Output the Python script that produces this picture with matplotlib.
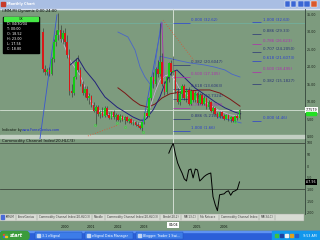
import numpy as np
import matplotlib
matplotlib.use("Agg")
import matplotlib.pyplot as plt
from matplotlib.patches import Rectangle, FancyBboxPatch
import matplotlib.transforms as mtransforms

# ---- data: monthly bars, month index counted from Jan 2000 = 0 ----
months = list(range(-8, 82))
opens = [30.0, 19.5, 18.5, 19.2, 18.0, 22.3, 27.2, 29.0,
         30.5, 28.0, 29.5, 27.0, 23.5, 13.0, 12.5, 17.0, 21.5, 19.0,
         15.0, 12.5, 13.8, 11.0, 11.8, 9.0, 7.5, 8.5, 6.5, 7.2,
         6.0, 8.2, 6.3, 5.5, 7.0, 5.6, 6.2, 4.9, 6.0, 4.8,
         5.6, 4.5, 5.1, 3.9, 4.4, 3.3, 3.0, 2.6, 4.2, 6.8,
         6.0, 11.0, 17.0, 15.0, 19.5, 18.0, 21.5, 15.0, 12.8, 17.0,
         21.0, 18.52, 18.8, 13.0, 10.0, 12.2, 14.5, 11.0, 13.5, 9.5,
         13.0, 10.5, 12.5, 9.8, 12.0, 9.5, 11.2, 8.5, 10.0, 7.5,
         8.2, 6.6, 5.8, 7.0, 6.0, 5.2, 6.3, 5.0, 5.6, 4.6,
         6.0, 5.3]
highs = [31.0, 20.5, 19.8, 20.0, 22.8, 28.0, 30.5, 35.2,
         32.0, 30.5, 31.0, 29.0, 25.0, 15.0, 17.5, 22.5, 23.5, 20.0,
         16.0, 14.5, 14.5, 12.5, 12.0, 10.0, 9.0, 9.0, 7.8, 8.5,
         8.8, 8.8, 7.0, 7.5, 7.6, 6.8, 6.6, 6.5, 6.4, 6.0,
         5.9, 5.5, 5.3, 4.8, 4.6, 4.2, 3.5, 4.5, 7.2, 8.0,
         11.5, 17.5, 18.5, 20.0, 22.0, 32.6, 24.0, 16.0, 17.5, 21.5,
         22.0, 23.0, 19.0, 14.0, 12.8, 15.0, 15.2, 14.0, 14.2, 13.8,
         13.5, 13.0, 13.0, 12.5, 12.4, 11.8, 11.5, 10.5, 10.2, 8.8,
         8.5, 7.2, 7.3, 7.4, 6.5, 6.6, 6.5, 6.0, 5.8, 6.2,
         6.5, 8.0]
lows = [18.5, 17.8, 17.6, 17.5, 17.8, 21.5, 26.0, 27.5,
        27.0, 26.5, 26.0, 22.5, 12.0, 11.5, 12.0, 16.5, 18.5, 14.5,
        12.0, 11.5, 10.5, 9.5, 8.5, 7.0, 3.4, 6.0, 5.5, 5.8,
        5.8, 6.0, 5.0, 5.2, 5.0, 4.6, 4.5, 4.2, 4.5, 3.8,
        4.2, 3.9, 3.6, 3.3, 3.0, 2.8, 2.2, 1.7, 3.8, 5.5,
        5.8, 10.5, 14.0, 14.5, 17.0, 17.5, 14.5, 12.0, 12.3, 15.8,
        17.5, 17.56, 12.5, 9.5, 9.0, 11.0, 10.5, 10.0, 9.0, 9.0,
        10.0, 10.0, 9.2, 9.5, 9.0, 9.0, 8.0, 8.0, 7.0, 6.5,
        6.2, 5.4, 5.5, 5.5, 4.8, 5.0, 4.6, 4.4, 4.3, 4.4,
        4.9, 5.1]
closes = [19.5, 18.5, 19.2, 18.0, 22.3, 27.2, 29.0, 30.5,
          28.0, 29.5, 27.0, 23.5, 13.0, 12.5, 17.0, 21.5, 19.0, 15.0,
          12.5, 13.8, 11.0, 11.8, 9.0, 7.5, 8.5, 6.5, 7.2, 6.0,
          8.2, 6.3, 5.5, 7.0, 5.6, 6.2, 4.9, 6.0, 4.8, 5.6,
          4.5, 5.1, 3.9, 4.4, 3.3, 3.0, 2.6, 4.2, 6.8, 6.0,
          11.0, 17.0, 15.0, 19.5, 18.0, 21.5, 15.0, 12.8, 17.0, 21.0,
          18.5, 18.80, 13.0, 10.0, 12.2, 14.5, 11.0, 13.5, 9.5, 13.0,
          10.5, 12.5, 9.8, 12.0, 9.5, 11.2, 8.5, 10.0, 7.5, 8.2,
          6.6, 5.8, 7.0, 6.0, 5.2, 6.3, 5.0, 5.6, 4.6, 6.0,
          5.3, 7.7579]

# indicator lines
navy_m = [4.3, 7.9, 11.1, 15.6, 17.9, 20.1, 25.6, 32.8, 36.0, 38.2, 41.9,
          45.0, 47.3, 50.5, 52.7, 56.3, 60.8, 65.4, 69.9, 74.4, 78.8, 81.5]
navy_v = [20.5, 22.5, 19.1, 15.7, 13.4, 11.4, 8.5, 5.7, 4.8, 4.8, 7.7,
          11.4, 15.4, 18.5, 19.1, 16.8, 14.0, 12.0, 10.0, 8.3, 7.1, 6.6]
maroon_m = [26.0, 29.2, 32.8, 36.0, 39.6, 42.8, 45.9, 49.5, 54.1, 58.6, 63.1, 67.6, 72.2, 76.7, 81.2]
maroon_v = [14.0, 12.5, 10.5, 9.1, 8.5, 9.4, 11.1, 12.3, 12.8, 13.1, 13.4, 13.4, 12.5, 10.8, 8.8]
lav_m = [-1.1, 0.7, 2.5, 4.3, 6.6, 8.8, 11.1, 13.3, 15.6, 17.9, 22.4, 26.9, 31.4, 36.0,
         38.2, 40.5, 42.8, 45.0, 47.3, 49.5, 51.8, 54.1, 58.6, 63.1, 67.6, 72.2, 76.7, 81.2]
lav_v = [30.5, 27.6, 24.8, 21.9, 19.7, 17.7, 14.2, 10.5, 8.3, 7.1, 6.3, 5.7, 4.8, 3.7,
         4.6, 8.3, 12.8, 16.2, 17.4, 17.9, 16.2, 13.4, 11.4, 10.5, 9.1, 7.4, 6.3, 6.0]
band_m = [26.0, 30.5, 33.7, 36.0, 38.2, 40.5, 42.8, 45.0, 48.6, 54.1, 58.6, 65.4, 69.9, 74.4, 77.6, 81.2]
band_v = [29.9, 28.5, 24.8, 19.9, 17.1, 15.1, 16.2, 23.0, 22.5, 21.7, 21.1, 20.5, 19.9, 19.1, 17.9, 17.1]
lowband_m = [71.3, 81.7]
lowband_v = [5.7, 4.0]
zig1_m, zig1_v = [-9.3, -1.6], [-0.57, 34.8]
zig2_m, zig2_v = [36.9, 45.9], [2.56, 32.5]
zig3_m, zig3_v = [41.4, 45.5], [14.0, 32.8]
drop_m, drop_v = [45.9, 46.8], [32.5, 17.1]
trend1_m, trend1_v = [46.4, 60.9], [33.3, 21.4]
trend2_m, trend2_v = [12.4, 26.0], [0.3, 3.4]
dots_m = [15.6, 25.6, 29.2, 37.3, 79.0]
dots_v = [3.4, 4.0, 2.8, 1.4, 4.2]

# fibonacci levels
fibA_price = [32.62, 20.6047, 17.105, 13.6063, 10.7324, 8.36962, 5.21602, 1.66]
fibA_text = ['0.000 (32.62)', '0.382 (20.6047)', '0.500 (17.105)', '0.618 (13.6063)',
             '0.707 (10.7324)', '0.786 (8.36962)', '0.886 (5.21602)', '1.000 (1.66)']
fibB_price = [32.63, 29.33, 26.623, 24.205, 21.6073, 18.495, 15.1827, 4.46]
fibB_text = ['1.000 (32.63)', '0.886 (29.33)', '0.786 (26.623)', '0.707 (24.2050)',
             '0.618 (21.6073)', '0.500 (18.495)', '0.382 (15.1827)', '0.000 (4.46)']

# commodity channel index
cci_m = list(range(49, 82))
cci_v = [55, 78, 97, 50, 13, -10, -30, -55, -64, -17, -13, -51, -13, -17, -64,
         -55, -45, -38, -33, -30, -131, -165, -191, -123, -121, -119, -110, -106,
         -125, -110, -106, -100, -68]

price_ticks = [0, 5, 10, 15, 20, 25, 30, 35]
cci_ticks = [-200, -150, -100, -50, 0, 50, 100]
# 2004 sits under the cursor date box, so it is left blank
year_ticks = [0, 12, 24, 36, 60, 72]
year_labels = ['2000', '2001', '2002', '2003', '2005', '2006']
cursor_i = months.index(51)  # 04/30/04 bar

BG = '#7d9b7e'
BLUE = '#2a3ed2'
NAVY = '#2a3478'
MAG = '#b02cb0'
fibA_col = [BLUE, NAVY, MAG, NAVY, NAVY, MAG, NAVY, BLUE]
fibB_col = [BLUE, NAVY, MAG, NAVY, BLUE, MAG, NAVY, BLUE]

fig = plt.figure(figsize=(3.2, 2.4), dpi=100)
fig.patch.set_facecolor(BG)


def px_axes(x0, y0, x1, y1):
    return fig.add_axes([x0 / 320, 1 - y1 / 240, (x1 - x0) / 320, (y1 - y0) / 240])


# window chrome behind the charts
bg = px_axes(0, 0, 320, 240)
bg.set_xlim(0, 320)
bg.set_ylim(240, 0)
bg.axis('off')
bg.add_patch(Rectangle((0, 0), 320, 8.5, color='#a9bee3'))
bg.add_patch(Rectangle((0, 8.5), 320, 0.7, color='#dfe6f0'))
bg.add_patch(Rectangle((1.2, 1.8), 3.4, 4.6, color='#c83a2a'))
bg.text(7, 4.4, 'Monthly Chart', color='white', fontsize=2.5, fontweight='bold', va='center')
for x0, col in [(284.5, '#3a66d4'), (290.6, '#3a66d4'), (298.2, '#3a66d4'),
                (304.4, '#3a66d4'), (311.0, '#d9592d')]:
    bg.add_patch(Rectangle((x0, 1.4), 5.6, 5.8, facecolor=col, edgecolor='white', lw=0.3))
bg.text(2, 11.4, '(IMM,M) Dynamic 0:00-24:00', fontsize=2.7, color='black', va='center')
bg.text(2.5, 130.3, 'Indicator by', fontsize=2.4, color='#101810', va='center')
bg.text(21.5, 130.3, 'www.ForexGenius.com', fontsize=2.4, color='#1c2ad0', va='center')
bg.add_patch(Rectangle((0, 135.2), 305, 2.3, color='#c3cfc3'))
bg.text(1.5, 141.2, 'Commodity Channel Index(20,HLC/3)', fontsize=2.8, color='#101010', va='center')
# tab strip
bg.add_patch(Rectangle((0, 214), 304, 6.6, facecolor='#d8dcd4', edgecolor='#9aa29a', lw=0.3))
bg.add_patch(Rectangle((1, 215.3), 3.4, 4, color='#4a6ad8'))
tabs = ['IMM,M', 'ForexGenius', 'Commodity Channel Index(20,HLC/3)', 'Moodle',
        'Commodity Channel Index(20,HLC/3)', 'Bands(20,2)', 'MA(13,C)', 'Fib Retrace',
        'Commodity Channel Index', 'MA(34,C)']
tx = 6
for t in tabs:
    bg.text(tx, 217.4, t, fontsize=2.0, color='#3c3c3c', va='center')
    tx += len(t) * 1.55 + 4
    if tx > 300:
        break
    bg.plot([tx - 2, tx - 2], [214.6, 220.2], color='#808880', lw=0.3)
# taskbar
bg.add_patch(Rectangle((0, 231), 320, 9, color='#2b5fd8'))
bg.add_patch(Rectangle((0, 231), 320, 0.8, color='#5e92f2'))
bg.add_patch(FancyBboxPatch((0, 231.4), 29, 8.4, boxstyle='round,pad=0,rounding_size=3',
                            color='#3b9c3b'))
for (dx, dy), col in zip([(3.2, 233.6), (5.2, 233.6), (3.2, 235.6), (5.2, 235.6)],
                         ['#e8502a', '#40b040', '#3a70e0', '#f0c020']):
    bg.add_patch(Rectangle((dx, dy), 1.8, 1.8, color=col))
bg.text(9.5, 235.8, 'start', fontsize=3.4, color='white', fontweight='bold',
        fontstyle='italic', va='center')
for x0, w, t in [(35, 47, '3.1 eSignal'), (85, 48, 'eSignal Data Manager'),
                 (136, 47, 'Blogger: Trader 1 Swi...')]:
    bg.add_patch(Rectangle((x0, 232.2), w, 7, facecolor='#3d7ce8', edgecolor='#1e4cb6', lw=0.3))
    bg.add_patch(Rectangle((x0 + 2, 234), 3, 3, color='#c0d4f4'))
    bg.text(x0 + 7, 235.8, t, fontsize=2.3, color='white', va='center')
bg.add_patch(Rectangle((272, 231), 48, 9, color='#1297ec'))
for x0, col in [(275, '#40c040'), (280, '#2040a0'), (285, '#f0f0f0'), (290, '#e0a020'),
                (295, '#2060d0')]:
    bg.add_patch(Rectangle((x0, 233.5), 3.4, 3.6, color=col))
bg.text(310, 235.8, '9:53 AM', fontsize=2.3, color='white', va='center', ha='center')

# ---- price panel ----
xlo, xhi = -27.38, 110.63
ax = px_axes(0, 9, 305, 139)
ax.set_facecolor('none')
ax.set_xlim(xlo, xhi)
ax.set_ylim(-0.57, 36.47)

ax.axhline(fibA_price[0], color='#6fb2a2', lw=0.5, zorder=1)
ax.axhline(closes[-1], color='#d6e2d6', lw=0.6, zorder=1)
ax.axvline(months[cursor_i], color='#d2ded2', lw=0.7, zorder=1)

ax.plot(band_m, band_v, color='#4a66c8', lw=0.6, zorder=2)
ax.plot(lowband_m, lowband_v, color='#4a66c8', lw=0.6, zorder=2)
ax.plot(maroon_m, maroon_v, color='#7a1616', lw=0.7, zorder=2)
ax.plot(lav_m, lav_v, color='#d4acdc', lw=0.5, zorder=2)
ax.plot(navy_m, navy_v, color='#22227a', lw=0.7, zorder=2)
ax.plot(zig1_m, zig1_v, color='#3a56d0', lw=0.6, zorder=2)
ax.plot(zig2_m, zig2_v, color='#3a56d0', lw=0.6, zorder=2)
ax.plot(zig3_m, zig3_v, color='#4a66c8', lw=0.5, zorder=2)
ax.plot(drop_m, drop_v, color=MAG, lw=0.6, zorder=2)
ax.plot(trend1_m, trend1_v, color='#e05030', lw=0.6, ls=(0, (1, 2)), zorder=2)
ax.plot(trend2_m, trend2_v, color='#e05030', lw=0.6, ls=(0, (1, 2)), zorder=2)

# fib retracements
ax.hlines(fibA_price, 50.9, 58.6, colors=fibA_col, lw=0.5, zorder=2)
for p, t, col in zip(fibA_price, fibA_text, fibA_col):
    ax.text(59.0, p + 0.25, t, fontsize=2.8, color=col, va='bottom', ha='left', zorder=3)
ax.hlines(fibB_price, 86.7, 90.7, colors=fibB_col, lw=0.5, zorder=2)
for p, t, col in zip(fibB_price, fibB_text, fibB_col):
    ax.text(91.6, p + 0.25, t, fontsize=2.8, color=col, va='bottom', ha='left', zorder=3)

# candles
o = np.array(opens)
c = np.array(closes)
body_cols = np.where(c >= o, '#14cc14', '#d81818')
ax.vlines(months, lows, highs, color='#2a302a', lw=0.4, zorder=4)
ax.bar(months, np.abs(c - o), bottom=np.minimum(o, c), width=0.75,
       color=body_cols, edgecolor='none', zorder=5)
ax.plot(dots_m, dots_v, 'o', ms=1.6, mfc='none', mec='#3ae03a', mew=0.4, zorder=5)

ax.yaxis.tick_right()
ax.set_yticks(price_ticks)
ax.set_yticklabels([f'{t:.2f}' for t in price_ticks])
ax.tick_params(axis='y', length=0, pad=1.3, labelsize=2.3, labelcolor='#1a221a')
ax.set_xticks([])
for s in ['top', 'left', 'bottom']:
    ax.spines[s].set_visible(False)
ax.spines['right'].set_color('#34443a')
ax.spines['right'].set_linewidth(0.6)

blend = mtransforms.blended_transform_factory(ax.transAxes, ax.transData)
ax.text(1.003, closes[-1], f'{closes[-1]:.4f}', transform=blend, fontsize=2.3,
        va='center', ha='left', clip_on=False, zorder=8,
        bbox=dict(boxstyle='square,pad=0.25', fc='white', ec='none'))
ax.add_patch(Rectangle((1.003, closes[-1] - 1.55), 0.032, 0.8, transform=blend,
                       color='#22e022', clip_on=False, zorder=8))

# ---- CCI panel ----
cx = px_axes(0, 139, 305, 214)
cx.set_facecolor('none')
cx.set_xlim(xlo, xhi)
cx.set_ylim(-205.1, 115.4)
cx.axhline(100, color='#3c463c', lw=0.6)
cx.axhline(-100, color='#3c463c', lw=0.6)
cx.axvline(months[cursor_i], color='#d2ded2', lw=0.7)
cx.plot(cci_m, cci_v, color='black', lw=0.7)
cx.yaxis.tick_right()
cx.set_yticks(cci_ticks)
cx.set_yticklabels([str(t) for t in cci_ticks])
cx.tick_params(axis='y', length=0, pad=1.3, labelsize=2.3, labelcolor='#1a221a')
cx.set_xticks(year_ticks)
cx.set_xticklabels(year_labels, ha='left')
cx.tick_params(axis='x', length=0, pad=7.6, labelsize=2.4, labelcolor='#101810')
for s in ['top', 'left', 'bottom']:
    cx.spines[s].set_visible(False)
cx.spines['right'].set_color('#34443a')
cx.spines['right'].set_linewidth(0.6)

cblend = mtransforms.blended_transform_factory(cx.transAxes, cx.transData)
cx.text(1.003, cci_v[-1], '-67.96', transform=cblend, fontsize=2.3, color='white',
        va='center', ha='left', clip_on=False, zorder=8,
        bbox=dict(boxstyle='square,pad=0.25', fc='black', ec='none'))
dblend = mtransforms.blended_transform_factory(cx.transData, cx.transAxes)
cx.text(months[cursor_i], -0.14, '04/04', transform=dblend, fontsize=2.4, ha='center',
        va='center', clip_on=False, zorder=8,
        bbox=dict(boxstyle='square,pad=0.3', fc='white', ec='none'))

# ---- data window overlay ----
ov = px_axes(0, 0, 320, 240)
ov.set_zorder(10)
ov.set_xlim(0, 320)
ov.set_ylim(240, 0)
ov.axis('off')
ov.patch.set_visible(False)
ov.add_patch(Rectangle((3, 16.5), 35.5, 36, color='black'))
ov.add_patch(Rectangle((3.6, 17.1), 34.3, 3.8, color='#46e846'))
ov.text(20.7, 19.0, 'OK', fontsize=2.3, color='#103010', ha='center', va='center')
rows = ['D: 04/30/04', 'T: 00:00',
        f'O: {opens[cursor_i]:.2f}', f'H: {highs[cursor_i]:.2f}',
        f'L: {lows[cursor_i]:.2f}', f'C: {closes[cursor_i]:.2f}']
for k, r in enumerate(rows):
    ov.text(7, 24.4 + 5 * k, r, fontsize=2.4, color='white', va='center')

fig.savefig('out.png', dpi=100, facecolor=BG)
